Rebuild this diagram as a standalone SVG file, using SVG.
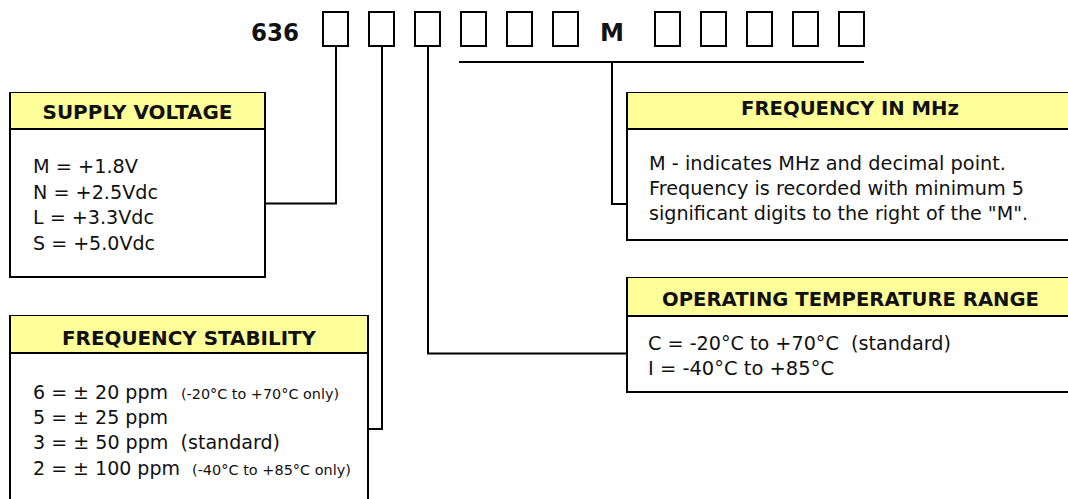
<svg xmlns="http://www.w3.org/2000/svg" width="1068" height="499" viewBox="0 0 1068 499">
<style>
.hdr{fill:#FFFF99;stroke:none}
.ol{fill:none;stroke:#000;stroke-width:2}
.top{fill:none;stroke:#000;stroke-width:1}
.cell{fill:none;stroke:#000;stroke-width:2}
.conn{fill:none;stroke:#000;stroke-width:2}
text{font-family:"DejaVu Sans","Liberation Sans",sans-serif;fill:#111}
.b{font-weight:bold}
.t{font-size:25px}
.h{font-size:19px}
.r{font-size:20px}
.s{font-size:14px}
</style>
<rect width="1068" height="499" fill="#fff"/>
<g id="code">
<text class="b t" x="251" y="41" textLength="48" lengthAdjust="spacingAndGlyphs">636</text>
<rect class="cell" x="323" y="12" width="25" height="34"/>
<rect class="cell" x="369" y="12" width="25" height="34"/>
<rect class="cell" x="415" y="12" width="25" height="34"/>
<rect class="cell" x="461" y="12" width="25" height="34"/>
<rect class="cell" x="507" y="12" width="25" height="34"/>
<rect class="cell" x="553" y="12" width="25" height="34"/>
<text class="b t" x="600" y="41" textLength="24" lengthAdjust="spacingAndGlyphs">M</text>
<rect class="cell" x="655" y="12" width="25" height="34"/>
<rect class="cell" x="701" y="12" width="25" height="34"/>
<rect class="cell" x="747" y="12" width="25" height="34"/>
<rect class="cell" x="793" y="12" width="25" height="34"/>
<rect class="cell" x="839" y="12" width="25" height="34"/>
</g>
<g id="connectors">
<path class="conn" d="M336,47 V203.5 H266"/>
<path class="conn" d="M382,47 V429 H369"/>
<path class="conn" d="M428,47 V353.5 H626"/>
<path class="conn" d="M459,62 H864"/>
<path class="conn" d="M612,62 V204 H626"/>
</g>
<g id="supply-voltage">
<rect class="hdr" x="9" y="92" width="257" height="37"/>
<path class="top" d="M9,92.5 H266"/>
<path class="ol" d="M10,92 V277 H265 V92"/>
<path class="ol" d="M9,129 H266"/>
<text class="b h" x="137.5" y="119" text-anchor="middle" textLength="190" lengthAdjust="spacingAndGlyphs">SUPPLY VOLTAGE</text>
<text class="r" x="33" y="173" textLength="105" lengthAdjust="spacingAndGlyphs">M = +1.8V</text>
<text class="r" x="33" y="198.5" textLength="125" lengthAdjust="spacingAndGlyphs">N = +2.5Vdc</text>
<text class="r" x="33" y="224" textLength="121" lengthAdjust="spacingAndGlyphs">L = +3.3Vdc</text>
<text class="r" x="33" y="249.5" textLength="122" lengthAdjust="spacingAndGlyphs">S = +5.0Vdc</text>
</g>
<g id="frequency-stability">
<rect class="hdr" x="9" y="315" width="360" height="38"/>
<path class="top" d="M9,315.5 H369"/>
<path class="ol" d="M10,510 V316 M368,316 V510"/>
<path class="ol" d="M9,353 H369"/>
<text class="b h" x="189" y="345" text-anchor="middle" textLength="254" lengthAdjust="spacingAndGlyphs">FREQUENCY STABILITY</text>
<text x="33" y="398.5"><tspan class="r" textLength="135" lengthAdjust="spacingAndGlyphs">6 = ± 20 ppm</tspan><tspan class="s" x="181" textLength="158" lengthAdjust="spacingAndGlyphs">(-20°C to +70°C only)</tspan></text>
<text class="r" x="33" y="423.5" textLength="135" lengthAdjust="spacingAndGlyphs">5 = ± 25 ppm</text>
<text class="r" x="33" y="449" textLength="247" lengthAdjust="spacingAndGlyphs">3 = ± 50 ppm&#160; (standard)</text>
<text x="33" y="474.5"><tspan class="r" textLength="147" lengthAdjust="spacingAndGlyphs">2 = ± 100 ppm</tspan><tspan class="s" x="192" textLength="159" lengthAdjust="spacingAndGlyphs">(-40°C to +85°C only)</tspan></text>
</g>
<g id="frequency-mhz">
<rect class="hdr" x="626" y="92" width="450" height="37"/>
<path class="top" d="M626,92.5 H1076"/>
<path class="ol" d="M627,92 V240 H1076"/>
<path class="ol" d="M626,129 H1076"/>
<text class="b h" x="850" y="115" text-anchor="middle" textLength="218" lengthAdjust="spacingAndGlyphs">FREQUENCY IN MHz</text>
<text class="r" x="649" y="169.5" textLength="357" lengthAdjust="spacingAndGlyphs">M - indicates MHz and decimal point.</text>
<text class="r" x="649" y="195" textLength="375" lengthAdjust="spacingAndGlyphs">Frequency is recorded with minimum 5</text>
<text class="r" x="649" y="219.5" textLength="379" lengthAdjust="spacingAndGlyphs">significant digits to the right of the "M".</text>
</g>
<g id="operating-temperature">
<rect class="hdr" x="626" y="277" width="450" height="39"/>
<path class="top" d="M626,277.5 H1076"/>
<path class="ol" d="M627,277 V392 H1076"/>
<path class="ol" d="M626,316 H1076"/>
<text class="b h" x="850.5" y="305.5" text-anchor="middle" textLength="377" lengthAdjust="spacingAndGlyphs">OPERATING TEMPERATURE RANGE</text>
<text class="r" x="648" y="349.5" textLength="303" lengthAdjust="spacingAndGlyphs">C = -20°C to +70°C&#160; (standard)</text>
<text class="r" x="648" y="374.5" textLength="186" lengthAdjust="spacingAndGlyphs">I = -40°C to +85°C</text>
</g>
</svg>
